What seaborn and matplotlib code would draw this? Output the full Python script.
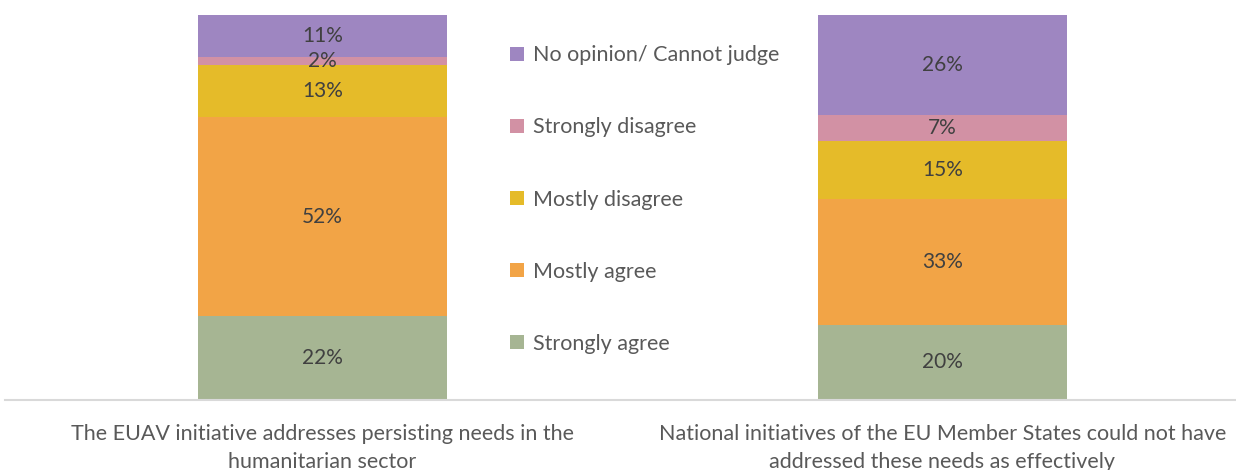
import numpy as np
import pandas as pd
import matplotlib
matplotlib.use("Agg")
import matplotlib.pyplot as plt
import seaborn as sns
from matplotlib.patches import Patch

# DATA
statements = [
    "The EUAV initiative addresses persisting needs in the\nhumanitarian sector",
    "National initiatives of the EU Member States could not have\naddressed these needs as effectively",
]
answers = ["Strongly agree", "Mostly agree", "Mostly disagree",
           "Strongly disagree", "No opinion/ Cannot judge"]
strongly_agree = [21.7, 19.5]
mostly_agree = [51.9, 32.6]
mostly_disagree = [13.4, 15.2]
strongly_disagree = [2.1, 6.6]
no_opinion = [10.9, 26.1]
colors = ["#A6B593", "#F2A446", "#E5BB29", "#D291A4", "#9E86C1"]

df = pd.DataFrame({
    "statement": statements,
    "Strongly agree": strongly_agree,
    "Mostly agree": mostly_agree,
    "Mostly disagree": mostly_disagree,
    "Strongly disagree": strongly_disagree,
    "No opinion/ Cannot judge": no_opinion,
})

sns.set_theme(style="white")
plt.rcParams["font.family"] = ["Lato", "DejaVu Sans"]

fig = plt.figure(figsize=(12.36, 4.70), dpi=100)
ax = fig.add_axes([5 / 1236, 70 / 470, 1 - 5 / 1236, 385 / 470])

# stacked bars
bottom = np.zeros(len(df))
for ans, col in zip(answers, colors):
    sns.barplot(data=df, x="statement", y=ans, bottom=bottom, color=col,
                width=0.402, saturation=1, ax=ax, linewidth=0)
    for i, v in enumerate(df[ans]):
        ax.text(i, bottom[i] + v / 2, f"{v:.0f}%", ha="center", va="center",
                fontsize=15, color="#404040")
    bottom = bottom + df[ans].values

ax.set_xlim(-0.5125, 1.474)
ax.set_ylim(0, 100)
ax.set_xlabel("")
ax.set_ylabel("")
ax.set_yticks([])
ax.tick_params(axis="x", length=0, pad=17, labelsize=15.5, labelcolor="#595959")
for lbl in ax.get_xticklabels():
    lbl.set_linespacing(1.5)
for s in ["top", "right", "left"]:
    ax.spines[s].set_visible(False)
ax.spines["bottom"].set_color("#D9D9D9")
ax.spines["bottom"].set_linewidth(1.5)

# legend (top item first)
handles = [Patch(facecolor=c, edgecolor="none") for c in colors[::-1]]
fig.legend(handles, answers[::-1], loc="upper left",
           bbox_to_anchor=(491 / 1236, 1 - 26 / 470), frameon=False,
           fontsize=15.5, labelcolor="#595959", handlelength=0.65,
           handleheight=0.65, handletextpad=0.4, labelspacing=2.42)

fig.savefig("out.png", dpi=100)
